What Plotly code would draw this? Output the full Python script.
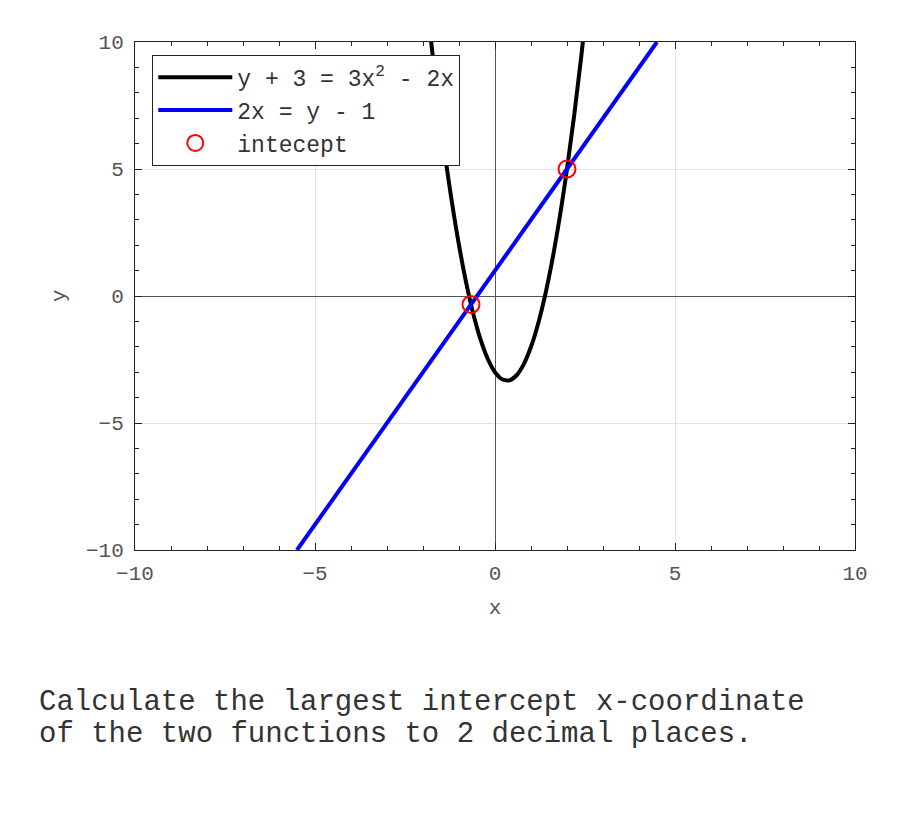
import plotly.graph_objects as go

px_vals = [-1.8, -1.6, -1.4, -1.2, -1.0, -0.8, -0.6, -0.4, -0.2, 0.0, 0.2, 0.4,
           0.6, 0.8, 1.0, 1.2, 1.4, 1.6, 1.8, 2.0, 2.2, 2.4, 2.6]
py_vals = [10.32, 7.88, 5.68, 3.72, 2.0, 0.52, -0.72, -1.72, -2.48, -3.0, -3.28, -3.32,
           -3.12, -2.68, -2.0, -1.08, 0.08, 1.48, 3.12, 5.0, 7.12, 9.48, 12.08]
# Line y = 2x + 1
lx_vals = [-5.5, 4.5]
ly_vals = [-10.0, 10.0]
# Intercepts
ix_vals = [-0.667, 2.0]
iy_vals = [-0.333, 5.0]

names = ["y + 3 = 3x<sup>2</sup> - 2x", "2x = y - 1", "intecept"]
ticks = [-10, -5, 0, 5, 10]
question = ["Calculate the largest intercept x-coordinate",
            "of the two functions to 2 decimal places."]

FONT = "Liberation Mono, Courier New, monospace"

fig = go.Figure()
fig.add_trace(go.Scatter(x=px_vals, y=py_vals, mode="lines", name=names[0],
                         line=dict(color="black", width=4, shape="spline")))
fig.add_trace(go.Scatter(x=lx_vals, y=ly_vals, mode="lines", name=names[1],
                         line=dict(color="#0000ff", width=4)))
fig.add_trace(go.Scatter(x=ix_vals, y=iy_vals, mode="markers", name=names[2],
                         marker=dict(symbol="circle-open", size=17, color="#ff0000",
                                     line=dict(width=2, color="#ff0000"))))

axis_common = dict(
    range=[-10, 10], tickvals=ticks, ticktext=[str(t).replace("-", "−") for t in ticks],
    showgrid=True, gridcolor="#e3e3e3", gridwidth=1,
    zeroline=True, zerolinecolor="#555", zerolinewidth=1,
    showline=True, linecolor="#222", linewidth=1, mirror="ticks",
    ticks="inside", ticklen=7, tickcolor="#222",
    minor=dict(dtick=1, ticks="inside", ticklen=4, tickcolor="#222", showgrid=False),
    tickfont=dict(family=FONT, size=21, color="#555"),
    title_font=dict(family=FONT, size=21, color="#555"),
)

fig.update_xaxes(**axis_common, title_text="x", title_standoff=14, ticklabelstandoff=4)
fig.update_yaxes(**axis_common, title_text="y", title_standoff=14, ticklabelstandoff=6)

fig.update_layout(
    width=900, height=825,
    margin=dict(l=127, r=53, t=34, b=283),
    plot_bgcolor="white", paper_bgcolor="white",
    font=dict(family=FONT, color="#222"),
    showlegend=True,
    legend=dict(x=0.024, y=0.975, xanchor="left", yanchor="top",
                bgcolor="white", bordercolor="#222", borderwidth=1,
                font=dict(family=FONT, size=23, color="#333"),
                tracegroupgap=0, itemwidth=74),
    annotations=[
        dict(text=question[0], xref="paper", yref="paper", x=-0.136, y=-0.301,
             xanchor="left", yanchor="middle", showarrow=False, align="left",
             font=dict(family=FONT, size=29, color="#333")),
        dict(text=question[1], xref="paper", yref="paper", x=-0.136, y=-0.364,
             xanchor="left", yanchor="middle", showarrow=False, align="left",
             font=dict(family=FONT, size=29, color="#333")),
    ],
)

fig.write_html("out.html")
